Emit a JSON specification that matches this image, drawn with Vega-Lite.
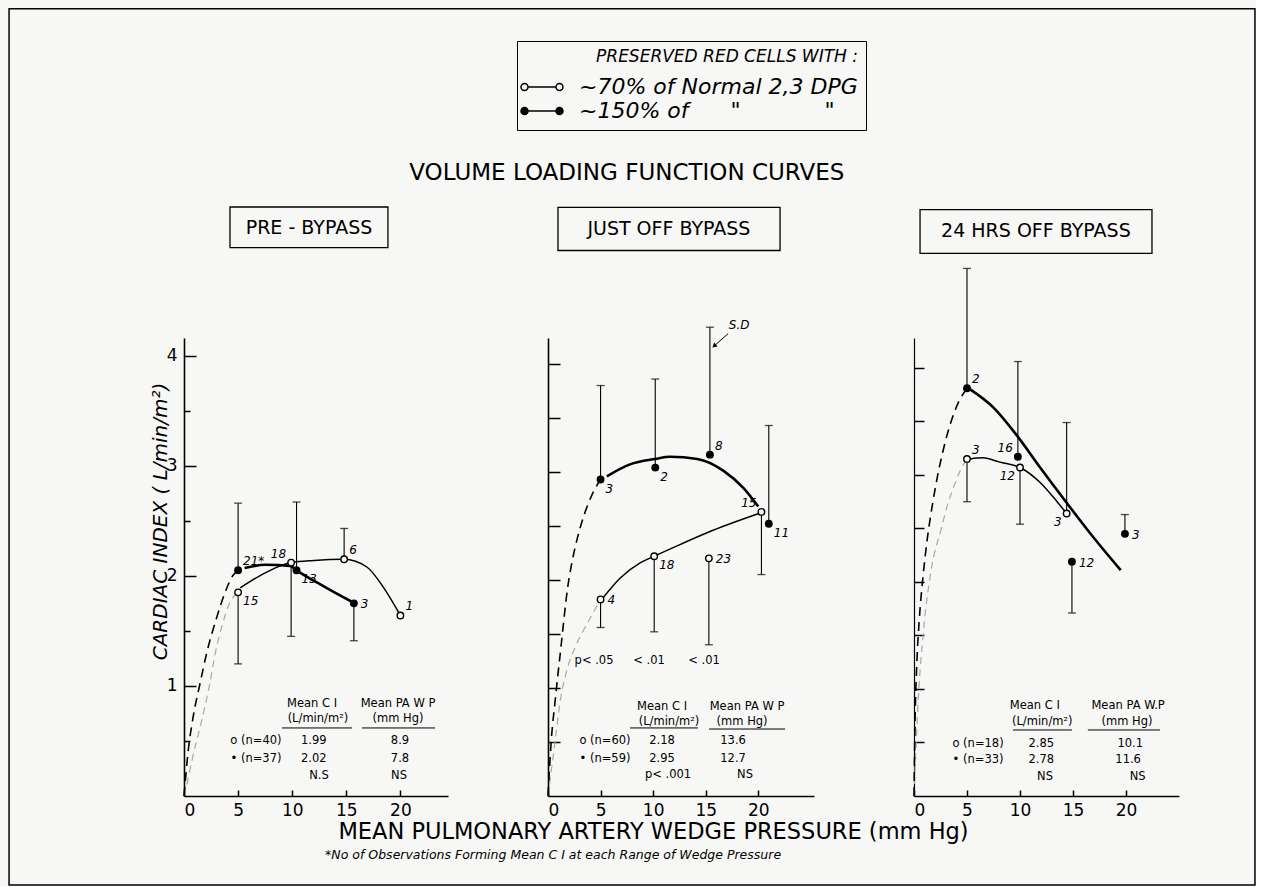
{
"$schema": "https://vega.github.io/schema/vega-lite/v6.json",
"background": "#f7f7f5",
"padding": {"left": 8, "top": 8, "right": 0, "bottom": 0},
"config": {
  "view": {"stroke": null},
  "font": "DejaVu Sans",
  "axis": {"grid": false, "domainColor": "black", "domainWidth": 1.6, "tickColor": "black", "tickWidth": 1.5, "labelColor": "black", "labelFont": "DejaVu Sans", "labelFontSize": 17, "titleColor": "black", "titleFont": "DejaVu Sans", "titleFontWeight": "normal"},
  "text": {"font": "DejaVu Sans", "color": "black"}
},
"resolve": {"scale": {"fill": "independent"}, "legend": {"fill": "independent"}},
"datasets": {
  "pts": [
    {"p":1,"g":"f","x":5,"y":2.05,"bar":2.66,"n":"21*","pos":"ne"},
    {"p":1,"g":"o","x":5,"y":1.85,"bar":1.2,"n":"15","pos":"se"},
    {"p":1,"g":"o","x":9.9,"y":2.12,"bar":1.45,"n":"18","pos":"nw"},
    {"p":1,"g":"f","x":10.4,"y":2.05,"bar":2.67,"n":"13","pos":"se"},
    {"p":1,"g":"o","x":14.8,"y":2.15,"bar":2.43,"n":"6","pos":"ne"},
    {"p":1,"g":"f","x":15.7,"y":1.75,"bar":1.41,"n":"3","pos":"e"},
    {"p":1,"g":"o","x":20,"y":1.64,"bar":null,"n":"1","pos":"ne"},
    {"p":2,"g":"f","x":5,"y":2.93,"bar":3.8,"n":"3","pos":"se"},
    {"p":2,"g":"f","x":10.2,"y":3.04,"bar":3.86,"n":"2","pos":"se"},
    {"p":2,"g":"f","x":15.4,"y":3.16,"bar":4.34,"n":"8","pos":"ne"},
    {"p":2,"g":"f","x":21.0,"y":2.52,"bar":3.43,"n":"11","pos":"se"},
    {"p":2,"g":"o","x":5,"y":1.82,"bar":1.56,"n":"4","pos":"e"},
    {"p":2,"g":"o","x":10.1,"y":2.22,"bar":1.52,"n":"18","pos":"se"},
    {"p":2,"g":"o","x":15.3,"y":2.2,"bar":1.4,"n":"23","pos":"e"},
    {"p":2,"g":"o","x":20.3,"y":2.63,"bar":2.05,"n":"15","pos":"nw"},
    {"p":3,"g":"f","x":5,"y":3.81,"bar":4.93,"n":"2","pos":"ne"},
    {"p":3,"g":"o","x":5,"y":3.15,"bar":2.75,"n":"3","pos":"ne"},
    {"p":3,"g":"f","x":9.8,"y":3.17,"bar":4.06,"n":"16","pos":"nw"},
    {"p":3,"g":"o","x":10,"y":3.07,"bar":2.54,"n":"12","pos":"sw"},
    {"p":3,"g":"o","x":14.4,"y":2.64,"bar":3.49,"n":"3","pos":"sw"},
    {"p":3,"g":"f","x":14.9,"y":2.19,"bar":1.71,"n":"12","pos":"e"},
    {"p":3,"g":"f","x":19.9,"y":2.45,"bar":2.63,"n":"3","pos":"e"}
  ],
  "crv": [
    {"p":1,"k":"fd","x":0,"y":0},{"p":1,"k":"fd","x":0.4,"y":0.42},{"p":1,"k":"fd","x":0.85,"y":0.72},{"p":1,"k":"fd","x":1.5,"y":1.03},{"p":1,"k":"fd","x":2.1,"y":1.3},{"p":1,"k":"fd","x":3.05,"y":1.63},{"p":1,"k":"fd","x":3.8,"y":1.85},{"p":1,"k":"fd","x":4.5,"y":2.0},{"p":1,"k":"fd","x":5,"y":2.05},
    {"p":1,"k":"od","x":0,"y":0},{"p":1,"k":"od","x":0.3,"y":0.12},{"p":1,"k":"od","x":0.75,"y":0.33},{"p":1,"k":"od","x":1.5,"y":0.63},{"p":1,"k":"od","x":2.4,"y":1.03},{"p":1,"k":"od","x":2.9,"y":1.3},{"p":1,"k":"od","x":3.5,"y":1.54},{"p":1,"k":"od","x":4.2,"y":1.75},{"p":1,"k":"od","x":5,"y":1.85},
    {"p":1,"k":"fs","x":5.6,"y":2.07},{"p":1,"k":"fs","x":7.5,"y":2.1},{"p":1,"k":"fs","x":9.8,"y":2.09},{"p":1,"k":"fs","x":10.4,"y":2.05},{"p":1,"k":"fs","x":13,"y":1.9},{"p":1,"k":"fs","x":15.6,"y":1.76},
    {"p":1,"k":"os","x":5.2,"y":1.89},{"p":1,"k":"os","x":7,"y":2.0},{"p":1,"k":"os","x":8.4,"y":2.07},{"p":1,"k":"os","x":9.9,"y":2.12},{"p":1,"k":"os","x":12,"y":2.14},{"p":1,"k":"os","x":14.8,"y":2.15},{"p":1,"k":"os","x":16.9,"y":2.08},{"p":1,"k":"os","x":18.4,"y":1.9},{"p":1,"k":"os","x":20,"y":1.64},
    {"p":2,"k":"fd","x":0,"y":0},{"p":2,"k":"fd","x":0.3,"y":0.5},{"p":2,"k":"fd","x":0.7,"y":0.9},{"p":2,"k":"fd","x":1.2,"y":1.35},{"p":2,"k":"fd","x":1.9,"y":1.95},{"p":2,"k":"fd","x":2.4,"y":2.22},{"p":2,"k":"fd","x":3.05,"y":2.48},{"p":2,"k":"fd","x":3.8,"y":2.7},{"p":2,"k":"fd","x":4.5,"y":2.85},{"p":2,"k":"fd","x":5,"y":2.93},
    {"p":2,"k":"od","x":0,"y":0},{"p":2,"k":"od","x":0.6,"y":0.45},{"p":2,"k":"od","x":1.2,"y":0.9},{"p":2,"k":"od","x":1.9,"y":1.2},{"p":2,"k":"od","x":2.6,"y":1.38},{"p":2,"k":"od","x":3.3,"y":1.52},{"p":2,"k":"od","x":4.2,"y":1.68},{"p":2,"k":"od","x":5,"y":1.82},
    {"p":2,"k":"fs","x":5.6,"y":2.96},{"p":2,"k":"fs","x":7.8,"y":3.07},{"p":2,"k":"fs","x":10.2,"y":3.12},{"p":2,"k":"fs","x":11.6,"y":3.14},{"p":2,"k":"fs","x":14.2,"y":3.12},{"p":2,"k":"fs","x":16.7,"y":3.01},{"p":2,"k":"fs","x":18.6,"y":2.85},{"p":2,"k":"fs","x":20,"y":2.68},
    {"p":2,"k":"os","x":5.2,"y":1.83},{"p":2,"k":"os","x":6.9,"y":2.02},{"p":2,"k":"os","x":8.8,"y":2.16},{"p":2,"k":"os","x":10.1,"y":2.22},{"p":2,"k":"os","x":12.6,"y":2.33},{"p":2,"k":"os","x":15.7,"y":2.46},{"p":2,"k":"os","x":20.2,"y":2.62},
    {"p":3,"k":"fd","x":0,"y":0},{"p":3,"k":"fd","x":0.1,"y":0.7},{"p":3,"k":"fd","x":0.25,"y":1.2},{"p":3,"k":"fd","x":0.5,"y":1.65},{"p":3,"k":"fd","x":0.85,"y":2.05},{"p":3,"k":"fd","x":1.25,"y":2.4},{"p":3,"k":"fd","x":1.7,"y":2.7},{"p":3,"k":"fd","x":2.2,"y":2.98},{"p":3,"k":"fd","x":2.8,"y":3.25},{"p":3,"k":"fd","x":3.5,"y":3.5},{"p":3,"k":"fd","x":4.2,"y":3.68},{"p":3,"k":"fd","x":5,"y":3.81},
    {"p":3,"k":"od","x":0,"y":0},{"p":3,"k":"od","x":0.4,"y":0.9},{"p":3,"k":"od","x":0.9,"y":1.55},{"p":3,"k":"od","x":1.6,"y":2.1},{"p":3,"k":"od","x":2.6,"y":2.51},{"p":3,"k":"od","x":3.1,"y":2.7},{"p":3,"k":"od","x":3.9,"y":2.93},{"p":3,"k":"od","x":4.5,"y":3.07},{"p":3,"k":"od","x":5,"y":3.15},
    {"p":3,"k":"fs","x":5.3,"y":3.8},{"p":3,"k":"fs","x":7.5,"y":3.63},{"p":3,"k":"fs","x":9.7,"y":3.37},{"p":3,"k":"fs","x":11.9,"y":3.07},{"p":3,"k":"fs","x":14.4,"y":2.74},{"p":3,"k":"fs","x":16.9,"y":2.42},{"p":3,"k":"fs","x":19.5,"y":2.11},
    {"p":3,"k":"os","x":5.3,"y":3.15},{"p":3,"k":"os","x":6.5,"y":3.16},{"p":3,"k":"os","x":8.1,"y":3.12},{"p":3,"k":"os","x":10,"y":3.07},{"p":3,"k":"os","x":11.9,"y":2.93},{"p":3,"k":"os","x":13.5,"y":2.75},{"p":3,"k":"os","x":14.4,"y":2.64}
  ],
  "tbl": [
    {"p":1,"t":"Mean C I","x":11.83,"y":0.836},
    {"p":1,"t":"(L/min/m²)","x":12.38,"y":0.70},
    {"p":1,"t":"Mean PA W P","x":19.78,"y":0.836},
    {"p":1,"t":"(mm Hg)","x":19.78,"y":0.70},
    {"p":1,"t":"o  (n=40)","x":6.65,"y":0.5},
    {"p":1,"t":"1.99","x":12.0,"y":0.5},
    {"p":1,"t":"8.9","x":19.96,"y":0.5},
    {"p":1,"t":"•  (n=37)","x":6.65,"y":0.336},
    {"p":1,"t":"2.02","x":12.0,"y":0.336},
    {"p":1,"t":"7.8","x":19.96,"y":0.336},
    {"p":1,"t":"N.S","x":12.48,"y":0.182},
    {"p":1,"t":"NS","x":19.87,"y":0.182},
    {"p":2,"t":"Mean C I","x":10.85,"y":0.824},
    {"p":2,"t":"(L/min/m²)","x":11.51,"y":0.685},
    {"p":2,"t":"Mean PA W P","x":18.93,"y":0.824},
    {"p":2,"t":"(mm Hg)","x":18.46,"y":0.685},
    {"p":2,"t":"o  (n=60)","x":5.42,"y":0.51},
    {"p":2,"t":"2.18","x":10.85,"y":0.51},
    {"p":2,"t":"13.6","x":17.6,"y":0.51},
    {"p":2,"t":"•  (n=59)","x":5.42,"y":0.343},
    {"p":2,"t":"2.95","x":10.85,"y":0.343},
    {"p":2,"t":"12.7","x":17.6,"y":0.343},
    {"p":2,"t":"p< .001","x":11.42,"y":0.194},
    {"p":2,"t":"NS","x":18.74,"y":0.194},
    {"p":2,"t":"p< .05","x":4.38,"y":1.25},
    {"p":2,"t":"< .01","x":9.61,"y":1.25},
    {"p":2,"t":"< .01","x":14.84,"y":1.25},
    {"p":3,"t":"Mean C I","x":11.4,"y":0.84},
    {"p":3,"t":"(L/min/m²)","x":12.1,"y":0.69},
    {"p":3,"t":"Mean PA W.P","x":20.2,"y":0.84},
    {"p":3,"t":"(mm Hg)","x":20.1,"y":0.69},
    {"p":3,"t":"o  (n=18)","x":6.04,"y":0.486},
    {"p":3,"t":"2.85","x":12.0,"y":0.486},
    {"p":3,"t":"10.1","x":20.4,"y":0.486},
    {"p":3,"t":"•  (n=33)","x":6.04,"y":0.336},
    {"p":3,"t":"2.78","x":12.0,"y":0.336},
    {"p":3,"t":"11.6","x":20.2,"y":0.336},
    {"p":3,"t":"NS","x":12.36,"y":0.178},
    {"p":3,"t":"NS","x":21.1,"y":0.178}
  ],
  "ul": [
    {"p":1,"x":9.06,"x2":15.53,"y":0.618},
    {"p":1,"x":16.45,"x2":23.2,"y":0.618},
    {"p":2,"x":7.8,"x2":14.27,"y":0.63},
    {"p":2,"x":15.32,"x2":22.55,"y":0.62},
    {"p":3,"x":9.34,"x2":14.9,"y":0.617},
    {"p":3,"x":16.4,"x2":23.2,"y":0.617}
  ],
  "box": [
    {"p":1,"t":"PRE - BYPASS","x":11.55,"y":5.16,"x1":4.25,"x2":18.85,"y1":4.98,"y2":5.35},
    {"p":2,"t":"JUST OFF BYPASS","x":11.5,"y":5.25,"x1":0.95,"x2":22.07,"y1":5.05,"y2":5.45},
    {"p":3,"t":"24 HRS OFF BYPASS","x":11.5,"y":5.28,"x1":0.57,"x2":22.45,"y1":5.07,"y2":5.48}
  ],
  "ann": [
    {"id":"title","t":"VOLUME LOADING FUNCTION CURVES","x":7.5,"y":5.77},
    {"id":"foot","t":"*No of Observations Forming Mean C I at each Range of Wedge Pressure","x":-21.2,"y":-0.546},
    {"id":"sd","t":"S.D","x":17.2,"y":4.36},
    {"id":"head","t":"","x":15.8,"y":4.165}
  ],
  "geo": [
    {"id":"frame","x":-51.26,"x2":67.24,"y":-0.824,"y2":7.287},
    {"id":"arrow","x":17.13,"x2":15.85,"y":4.28,"y2":4.17}
  ]
},
"spacing": 100,
"bounds": "flush",
"hconcat": [
  {
    "width": 264, "height": 458,
    "encoding": {
      "x": {"field": "x", "type": "quantitative", "scale": {"domain": [0, 24.4], "nice": false, "zero": false},
            "axis": {"values": [0,5,10,15,20], "title": null, "tickSize": -6, "labelPadding": 12}},
      "y": {"field": "y", "type": "quantitative", "scale": {"domain": [0, 4.16], "nice": false, "zero": false},
            "axis": {"values": [0.5,1,1.5,2,2.5,3,3.5,4], "labelExpr": "datum.value % 1 === 0 ? '' + datum.value : ''", "tickSize": -12,
                     "tickDash": {"condition": {"test": "datum.value % 1 !== 0", "value": [6, 30]}, "value": [30, 0]},
                     "labelPadding": 19, "title": "CARDIAC INDEX ( L/min/m²)", "titleX": -18, "titleY": 183, "titleAngle": 270,
                     "titleBaseline": "alphabetic", "titleAlign": "center", "titleFontStyle": "italic", "titleFontSize": 20}}
    },
    "layer": [
      {"data": {"name": "box"}, "transform": [{"filter": "datum.p===1"}], "mark": {"type": "rect", "fill": "transparent", "stroke": "black", "strokeWidth": 1.3},
       "encoding": {"x": {"field": "x1", "type": "quantitative"}, "x2": {"field": "x2"}, "y": {"field": "y1", "type": "quantitative"}, "y2": {"field": "y2"}}},
      {"data": {"name": "box"}, "transform": [{"filter": "datum.p===1"}], "mark": {"type": "text", "fontSize": 19, "align": "center", "baseline": "middle"},
       "encoding": {"text": {"field": "t"}}},
      {"data": {"name": "crv"}, "transform": [{"filter": "datum.p===1 && datum.k==='od'"}], "mark": {"type": "line", "interpolate": "monotone", "stroke": "#a8a8a8", "strokeWidth": 1.2, "strokeDash": [7, 5]}, "encoding": {}},
      {"data": {"name": "crv"}, "transform": [{"filter": "datum.p===1 && datum.k==='fd'"}], "mark": {"type": "line", "interpolate": "monotone", "stroke": "black", "strokeWidth": 1.6, "strokeDash": [9, 6]}, "encoding": {}},
      {"data": {"name": "crv"}, "transform": [{"filter": "datum.p===1 && datum.k==='os'"}], "mark": {"type": "line", "interpolate": "monotone", "stroke": "black", "strokeWidth": 1.5}, "encoding": {}},
      {"data": {"name": "crv"}, "transform": [{"filter": "datum.p===1 && datum.k==='fs'"}], "mark": {"type": "line", "interpolate": "monotone", "stroke": "black", "strokeWidth": 2.6}, "encoding": {}},
      {"data": {"name": "pts"}, "transform": [{"filter": "datum.p===1 && datum.bar != null"}], "mark": {"type": "rule", "color": "black", "strokeWidth": 1.1}, "encoding": {"y2": {"field": "bar"}}},
      {"data": {"name": "pts"}, "transform": [{"filter": "datum.p===1 && datum.bar != null"}], "mark": {"type": "tick", "orient": "horizontal", "color": "black", "thickness": 1.3, "size": 8}, "encoding": {"y": {"field": "bar", "type": "quantitative"}}},
      {"data": {"name": "pts"}, "transform": [{"filter": "datum.p===1"}], "mark": {"type": "point", "filled": true, "stroke": "black", "strokeWidth": 1.4, "size": 42, "opacity": 1},
       "encoding": {"fill": {"field": "g", "type": "nominal", "scale": {"domain": ["o", "f"], "range": ["#f7f7f5", "black"]}, "legend": null}}},
      {"data": {"name": "pts"}, "transform": [{"filter": "datum.p===1 && datum.pos==='ne'"}], "mark": {"type": "text", "fontStyle": "italic", "fontSize": 12, "align": "left", "baseline": "middle", "dx": 5, "dy": -9}, "encoding": {"text": {"field": "n"}}},
      {"data": {"name": "pts"}, "transform": [{"filter": "datum.p===1 && datum.pos==='se'"}], "mark": {"type": "text", "fontStyle": "italic", "fontSize": 12, "align": "left", "baseline": "middle", "dx": 5, "dy": 9}, "encoding": {"text": {"field": "n"}}},
      {"data": {"name": "pts"}, "transform": [{"filter": "datum.p===1 && datum.pos==='e'"}], "mark": {"type": "text", "fontStyle": "italic", "fontSize": 12, "align": "left", "baseline": "middle", "dx": 7, "dy": 1}, "encoding": {"text": {"field": "n"}}},
      {"data": {"name": "pts"}, "transform": [{"filter": "datum.p===1 && datum.pos==='nw'"}], "mark": {"type": "text", "fontStyle": "italic", "fontSize": 12, "align": "right", "baseline": "middle", "dx": -5, "dy": -9}, "encoding": {"text": {"field": "n"}}},
      {"data": {"name": "pts"}, "transform": [{"filter": "datum.p===1 && datum.pos==='sw'"}], "mark": {"type": "text", "fontStyle": "italic", "fontSize": 12, "align": "right", "baseline": "middle", "dx": -5, "dy": 9}, "encoding": {"text": {"field": "n"}}},
      {"data": {"name": "tbl"}, "transform": [{"filter": "datum.p===1"}], "mark": {"type": "text", "fontSize": 11.5, "align": "center", "baseline": "middle"}, "encoding": {"text": {"field": "t"}}},
      {"data": {"name": "ul"}, "transform": [{"filter": "datum.p===1"}], "mark": {"type": "rule", "color": "black", "strokeWidth": 1}, "encoding": {"x2": {"field": "x2"}}}
    ]
  },
  {
    "width": 266, "height": 458,
    "encoding": {
      "x": {"field": "x", "type": "quantitative", "scale": {"domain": [0, 25.3], "nice": false, "zero": false},
            "axis": {"values": [0,5,10,15,20], "tickSize": -6, "labelPadding": 12, "title": "MEAN PULMONARY ARTERY WEDGE PRESSURE (mm Hg)",
                     "titleX": 105, "titleY": 42, "titleBaseline": "alphabetic", "titleAlign": "center", "titleFontSize": 22.5, "titleLimit": 800}},
      "y": {"field": "y", "type": "quantitative", "scale": {"domain": [0, 4.24], "nice": false, "zero": false},
            "axis": {"values": [0.5,1,1.5,2,2.5,3,3.5,4], "labels": false, "tickSize": -12, "title": null}}
    },
    "layer": [
      {"data": {"name": "geo"}, "transform": [{"filter": "datum.id==='frame'"}], "mark": {"type": "rect", "fill": "transparent", "stroke": "black", "strokeWidth": 1.5},
       "encoding": {"x2": {"field": "x2"}, "y2": {"field": "y2"}}},
      {"data": {"name": "ann"}, "transform": [{"filter": "datum.id==='title'"}], "mark": {"type": "text", "fontSize": 23, "align": "center", "baseline": "middle"},
       "encoding": {"text": {"field": "t"}}},
      {"data": {"name": "ann"}, "transform": [{"filter": "datum.id==='foot'"}], "mark": {"type": "text", "fontSize": 12.5, "fontStyle": "italic", "align": "left", "baseline": "middle"},
       "encoding": {"text": {"field": "t"}}},
      {"data": {"name": "box"}, "transform": [{"filter": "datum.p===2"}], "mark": {"type": "rect", "fill": "transparent", "stroke": "black", "strokeWidth": 1.3},
       "encoding": {"x": {"field": "x1", "type": "quantitative"}, "x2": {"field": "x2"}, "y": {"field": "y1", "type": "quantitative"}, "y2": {"field": "y2"}}},
      {"data": {"name": "box"}, "transform": [{"filter": "datum.p===2"}], "mark": {"type": "text", "fontSize": 19, "align": "center", "baseline": "middle"},
       "encoding": {"text": {"field": "t"}}},
      {"data": {"name": "crv"}, "transform": [{"filter": "datum.p===2 && datum.k==='od'"}], "mark": {"type": "line", "interpolate": "monotone", "stroke": "#a8a8a8", "strokeWidth": 1.2, "strokeDash": [7, 5]}, "encoding": {}},
      {"data": {"name": "crv"}, "transform": [{"filter": "datum.p===2 && datum.k==='fd'"}], "mark": {"type": "line", "interpolate": "monotone", "stroke": "black", "strokeWidth": 1.6, "strokeDash": [9, 6]}, "encoding": {}},
      {"data": {"name": "crv"}, "transform": [{"filter": "datum.p===2 && datum.k==='os'"}], "mark": {"type": "line", "interpolate": "monotone", "stroke": "black", "strokeWidth": 1.5}, "encoding": {}},
      {"data": {"name": "crv"}, "transform": [{"filter": "datum.p===2 && datum.k==='fs'"}], "mark": {"type": "line", "interpolate": "monotone", "stroke": "black", "strokeWidth": 2.6}, "encoding": {}},
      {"data": {"name": "pts"}, "transform": [{"filter": "datum.p===2 && datum.bar != null"}], "mark": {"type": "rule", "color": "black", "strokeWidth": 1.1}, "encoding": {"y2": {"field": "bar"}}},
      {"data": {"name": "pts"}, "transform": [{"filter": "datum.p===2 && datum.bar != null"}], "mark": {"type": "tick", "orient": "horizontal", "color": "black", "thickness": 1.3, "size": 8}, "encoding": {"y": {"field": "bar", "type": "quantitative"}}},
      {"data": {"name": "pts"}, "transform": [{"filter": "datum.p===2"}], "mark": {"type": "point", "filled": true, "stroke": "black", "strokeWidth": 1.4, "size": 42, "opacity": 1},
       "encoding": {"fill": {"field": "g", "type": "nominal", "scale": {"domain": ["o", "f"], "range": ["#f7f7f5", "black"]},
         "legend": {"orient": "none", "legendX": -31, "legendY": -297, "title": "PRESERVED RED CELLS WITH :", "titleFontStyle": "italic", "titleFontSize": 17, "titleFontWeight": "normal", "titleFont": "DejaVu Sans", "titleColor": "black", "titleAnchor": "end", "titlePadding": 10, "titleLimit": 600,
                    "labelExpr": "datum.value === 'o' ? '~70% of Normal 2,3 DPG' : '~150% of \u00a0\u00a0\u00a0\u00a0\u00a0\"\u00a0\u00a0\u00a0\u00a0\u00a0\u00a0\u00a0\u00a0\u00a0\u00a0\u00a0\u00a0\"'",
                    "labelFont": "DejaVu Sans", "labelFontStyle": "italic", "labelFontSize": 22, "labelColor": "black", "labelLimit": 600,
                    "symbolType": "M-4.2,0A0.7,0.7 0 1,1 -2.8,0A0.7,0.7 0 1,1 -4.2,0ZM-2.8,0L2.8,0M2.8,0A0.7,0.7 0 1,1 4.2,0A0.7,0.7 0 1,1 2.8,0Z",
                    "symbolSize": 100, "symbolStrokeWidth": 1.5, "symbolStrokeColor": "black", "symbolOffset": 6, "labelOffset": 26,
                    "strokeColor": "black", "padding": 8, "rowPadding": 2}}}},
      {"data": {"name": "pts"}, "transform": [{"filter": "datum.p===2 && datum.pos==='ne'"}], "mark": {"type": "text", "fontStyle": "italic", "fontSize": 12, "align": "left", "baseline": "middle", "dx": 5, "dy": -9}, "encoding": {"text": {"field": "n"}}},
      {"data": {"name": "pts"}, "transform": [{"filter": "datum.p===2 && datum.pos==='se'"}], "mark": {"type": "text", "fontStyle": "italic", "fontSize": 12, "align": "left", "baseline": "middle", "dx": 5, "dy": 9}, "encoding": {"text": {"field": "n"}}},
      {"data": {"name": "pts"}, "transform": [{"filter": "datum.p===2 && datum.pos==='e'"}], "mark": {"type": "text", "fontStyle": "italic", "fontSize": 12, "align": "left", "baseline": "middle", "dx": 7, "dy": 1}, "encoding": {"text": {"field": "n"}}},
      {"data": {"name": "pts"}, "transform": [{"filter": "datum.p===2 && datum.pos==='nw'"}], "mark": {"type": "text", "fontStyle": "italic", "fontSize": 12, "align": "right", "baseline": "middle", "dx": -5, "dy": -9}, "encoding": {"text": {"field": "n"}}},
      {"data": {"name": "pts"}, "transform": [{"filter": "datum.p===2 && datum.pos==='sw'"}], "mark": {"type": "text", "fontStyle": "italic", "fontSize": 12, "align": "right", "baseline": "middle", "dx": -5, "dy": 9}, "encoding": {"text": {"field": "n"}}},
      {"data": {"name": "tbl"}, "transform": [{"filter": "datum.p===2"}], "mark": {"type": "text", "fontSize": 11.5, "align": "center", "baseline": "middle"}, "encoding": {"text": {"field": "t"}}},
      {"data": {"name": "ul"}, "transform": [{"filter": "datum.p===2"}], "mark": {"type": "rule", "color": "black", "strokeWidth": 1}, "encoding": {"x2": {"field": "x2"}}},
      {"data": {"name": "ann"}, "transform": [{"filter": "datum.id==='sd'"}], "mark": {"type": "text", "fontSize": 12, "fontStyle": "italic", "align": "left", "baseline": "middle"},
       "encoding": {"text": {"field": "t"}}},
      {"data": {"name": "geo"}, "transform": [{"filter": "datum.id==='arrow'"}], "mark": {"type": "rule", "color": "black", "strokeWidth": 1},
       "encoding": {"x2": {"field": "x2"}, "y2": {"field": "y2"}}},
      {"data": {"name": "ann"}, "transform": [{"filter": "datum.id==='head'"}], "mark": {"type": "point", "shape": "triangle-right", "angle": 139, "filled": true, "color": "black", "size": 28, "opacity": 1},
       "encoding": {}}
    ]
  },
  {
    "width": 265, "height": 458,
    "encoding": {
      "x": {"field": "x", "type": "quantitative", "scale": {"domain": [0, 25], "nice": false, "zero": false},
            "axis": {"values": [0,5,10,15,20], "title": null, "tickSize": -6, "labelPadding": 12}},
      "y": {"field": "y", "type": "quantitative", "scale": {"domain": [0, 4.28], "nice": false, "zero": false},
            "axis": {"values": [0.5,1,1.5,2,2.5,3,3.5,4], "labels": false, "tickSize": -10, "title": null, "domainWidth": 1.2}}
    },
    "layer": [
      {"data": {"name": "box"}, "transform": [{"filter": "datum.p===3"}], "mark": {"type": "rect", "fill": "transparent", "stroke": "black", "strokeWidth": 1.3},
       "encoding": {"x": {"field": "x1", "type": "quantitative"}, "x2": {"field": "x2"}, "y": {"field": "y1", "type": "quantitative"}, "y2": {"field": "y2"}}},
      {"data": {"name": "box"}, "transform": [{"filter": "datum.p===3"}], "mark": {"type": "text", "fontSize": 19, "align": "center", "baseline": "middle"},
       "encoding": {"text": {"field": "t"}}},
      {"data": {"name": "crv"}, "transform": [{"filter": "datum.p===3 && datum.k==='od'"}], "mark": {"type": "line", "interpolate": "monotone", "stroke": "#a8a8a8", "strokeWidth": 1.2, "strokeDash": [7, 5]}, "encoding": {}},
      {"data": {"name": "crv"}, "transform": [{"filter": "datum.p===3 && datum.k==='fd'"}], "mark": {"type": "line", "interpolate": "monotone", "stroke": "black", "strokeWidth": 1.6, "strokeDash": [9, 6]}, "encoding": {}},
      {"data": {"name": "crv"}, "transform": [{"filter": "datum.p===3 && datum.k==='os'"}], "mark": {"type": "line", "interpolate": "monotone", "stroke": "black", "strokeWidth": 1.5}, "encoding": {}},
      {"data": {"name": "crv"}, "transform": [{"filter": "datum.p===3 && datum.k==='fs'"}], "mark": {"type": "line", "interpolate": "monotone", "stroke": "black", "strokeWidth": 2.6}, "encoding": {}},
      {"data": {"name": "pts"}, "transform": [{"filter": "datum.p===3 && datum.bar != null"}], "mark": {"type": "rule", "color": "black", "strokeWidth": 1.1}, "encoding": {"y2": {"field": "bar"}}},
      {"data": {"name": "pts"}, "transform": [{"filter": "datum.p===3 && datum.bar != null"}], "mark": {"type": "tick", "orient": "horizontal", "color": "black", "thickness": 1.3, "size": 8}, "encoding": {"y": {"field": "bar", "type": "quantitative"}}},
      {"data": {"name": "pts"}, "transform": [{"filter": "datum.p===3"}], "mark": {"type": "point", "filled": true, "stroke": "black", "strokeWidth": 1.4, "size": 42, "opacity": 1},
       "encoding": {"fill": {"field": "g", "type": "nominal", "scale": {"domain": ["o", "f"], "range": ["#f7f7f5", "black"]}, "legend": null}}},
      {"data": {"name": "pts"}, "transform": [{"filter": "datum.p===3 && datum.pos==='ne'"}], "mark": {"type": "text", "fontStyle": "italic", "fontSize": 12, "align": "left", "baseline": "middle", "dx": 5, "dy": -9}, "encoding": {"text": {"field": "n"}}},
      {"data": {"name": "pts"}, "transform": [{"filter": "datum.p===3 && datum.pos==='se'"}], "mark": {"type": "text", "fontStyle": "italic", "fontSize": 12, "align": "left", "baseline": "middle", "dx": 5, "dy": 9}, "encoding": {"text": {"field": "n"}}},
      {"data": {"name": "pts"}, "transform": [{"filter": "datum.p===3 && datum.pos==='e'"}], "mark": {"type": "text", "fontStyle": "italic", "fontSize": 12, "align": "left", "baseline": "middle", "dx": 7, "dy": 1}, "encoding": {"text": {"field": "n"}}},
      {"data": {"name": "pts"}, "transform": [{"filter": "datum.p===3 && datum.pos==='nw'"}], "mark": {"type": "text", "fontStyle": "italic", "fontSize": 12, "align": "right", "baseline": "middle", "dx": -5, "dy": -9}, "encoding": {"text": {"field": "n"}}},
      {"data": {"name": "pts"}, "transform": [{"filter": "datum.p===3 && datum.pos==='sw'"}], "mark": {"type": "text", "fontStyle": "italic", "fontSize": 12, "align": "right", "baseline": "middle", "dx": -5, "dy": 9}, "encoding": {"text": {"field": "n"}}},
      {"data": {"name": "tbl"}, "transform": [{"filter": "datum.p===3"}], "mark": {"type": "text", "fontSize": 11.5, "align": "center", "baseline": "middle"}, "encoding": {"text": {"field": "t"}}},
      {"data": {"name": "ul"}, "transform": [{"filter": "datum.p===3"}], "mark": {"type": "rule", "color": "black", "strokeWidth": 1}, "encoding": {"x2": {"field": "x2"}}}
    ]
  }
]
}
